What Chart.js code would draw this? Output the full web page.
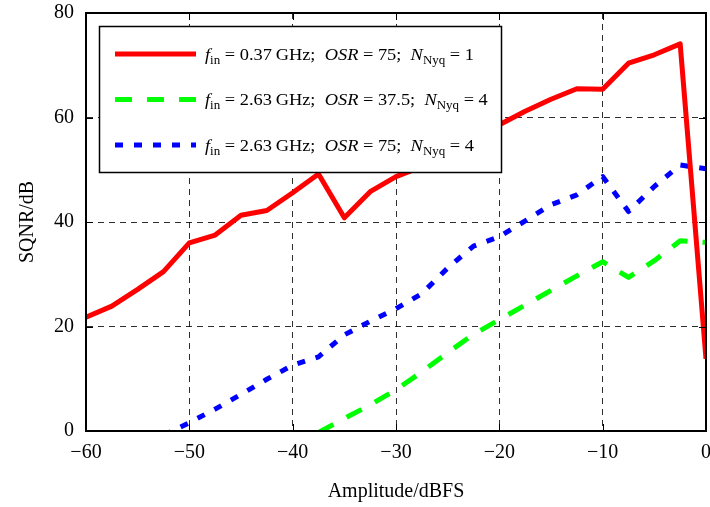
<!DOCTYPE html>
<html>
<head>
<meta charset="utf-8">
<script src="https://cdn.jsdelivr.net/npm/chart.js@4.4.1/dist/chart.umd.min.js"></script>
<style>
  html, body { margin: 0; padding: 0; background: #fff; }
  canvas { display: block; }
</style>
</head>
<body>
<canvas id="chart" width="710" height="507"></canvas>
<script>
// Input amplitude sweep (dBFS)
const amplitude = [-60, -57.5, -55, -52.5, -50, -47.5, -45, -42.5, -40, -37.5, -35, -32.5,
                   -30, -27.5, -25, -22.5, -20, -17.5, -15, -12.5, -10, -7.5, -5, -2.5, 0];

// SQNR (dB): f_in = 0.37 GHz, OSR = 75, N_Nyq = 1
const sqnrLowBand = [21.8, 23.9, 27.1, 30.5, 36.0, 37.5, 41.3, 42.2, 45.6, 49.2, 40.8, 45.8,
                     48.7, 50.6, 53.0, 55.8, 58.6, 61.2, 63.5, 65.5, 65.4, 70.4, 72.0, 74.1, 13.8];

// SQNR (dB): f_in = 2.63 GHz, OSR = 37.5, N_Nyq = 4
const sqnrOsr37 = [null, null, null, null, null, null, null, null, null, -0.3, 2.4, 5.0,
                   7.9, 11.3, 15.0, 18.5, 21.3, 24.1, 26.9, 29.7, 32.4, 29.4, 32.6, 36.4, 36.1];

// SQNR (dB): f_in = 2.63 GHz, OSR = 75, N_Nyq = 4
const sqnrOsr75 = [null, null, null, -0.8, 1.6, 4.2, 7.0, 9.9, 12.6, 14.2, 18.4, 21.0,
                   23.4, 26.3, 31.2, 35.4, 37.2, 40.2, 43.3, 45.2, 48.7, 42.0, 46.8, 50.9, 50.2];

const xTickLabels = ['\u221260', '\u221250', '\u221240', '\u221230', '\u221220', '\u221210', '0'];
const yTickLabels = ['0', '20', '40', '60', '80'];

// Legend entries
const legendFin = ['0.37', '2.63', '2.63'];
const legendOsr = ['75', '37.5', '75'];
const legendNyq = ['1', '4', '4'];

const SERIF = '"Liberation Serif", "Times New Roman", serif';
Chart.defaults.font.family = SERIF;
Chart.defaults.color = '#000';

function points(values) {
  return amplitude.map((x, i) => ({ x: x, y: values[i] }));
}

function strokeSegment(ctx, x1, y1, x2, y2) {
  ctx.beginPath();
  ctx.moveTo(x1, y1);
  ctx.lineTo(x2, y2);
  ctx.stroke();
}

// A legend row: italic symbols with roman subscripts
function richPieces(i) {
  return [
    ['f', 'it'], ['in', 'sub'],
    [' = ' + legendFin[i] + '\u2009GHz;  ', 'rm'],
    ['OSR', 'it'], [' = ' + legendOsr[i] + ';  ', 'rm'],
    ['N', 'it'], ['Nyq', 'sub'], [' = ' + legendNyq[i], 'rm']
  ];
}
const FS = 17;
const fonts = {
  rm: FS + 'px ' + SERIF,
  it: 'italic ' + FS + 'px ' + SERIF,
  sub: Math.round(FS * 0.72) + 'px ' + SERIF
};
function measureRich(ctx, pieces) {
  let w = 0;
  pieces.forEach(([t, k]) => { ctx.font = fonts[k]; w += ctx.measureText(t).width; });
  return w;
}
function drawRich(ctx, pieces) {
  let x = 0;
  pieces.forEach(([t, k]) => {
    ctx.font = fonts[k];
    ctx.fillText(t, x, k === 'sub' ? 4 : 0);
    x += ctx.measureText(t).width;
  });
}

const framePlugin = {
  id: 'frameAndLegend',
  afterDatasetsDraw(chart) {
    const { ctx, chartArea: a, scales: { x, y } } = chart;
    ctx.save();

    // inward tick marks on all four sides
    ctx.strokeStyle = '#000';
    ctx.lineWidth = 1;
    const tl = 7;
    x.ticks.forEach(t => {
      const px = Math.round(x.getPixelForValue(t.value)) + 0.5;
      strokeSegment(ctx, px, a.bottom, px, a.bottom - tl);
      strokeSegment(ctx, px, a.top, px, a.top + tl);
    });
    y.ticks.forEach(t => {
      const py = Math.round(y.getPixelForValue(t.value)) + 0.5;
      strokeSegment(ctx, a.left, py, a.left + tl, py);
      strokeSegment(ctx, a.right, py, a.right - tl, py);
    });

    // axes box
    ctx.lineWidth = 2;
    ctx.strokeRect(a.left, a.top, a.right - a.left, a.bottom - a.top);

    // legend box
    const bx = 99.5, by = 26.5, bw = 402, bh = 146;
    ctx.fillStyle = '#fff';
    ctx.fillRect(bx, by, bw, bh);
    ctx.lineWidth = 1.5;
    ctx.strokeStyle = '#000';
    ctx.strokeRect(bx, by, bw, bh);

    const rows = [54, 99.5, 145];
    const natural = measureRich(ctx, richPieces(0));
    const sx = 269 / natural;
    chart.data.datasets.forEach((ds, i) => {
      const ry = rows[i];
      ctx.save();
      ctx.strokeStyle = ds.borderColor;
      ctx.lineWidth = ds.borderWidth;
      ctx.lineCap = 'butt';
      ctx.setLineDash(ds.borderDash || []);
      strokeSegment(ctx, 115, ry, 196, ry);
      ctx.restore();

      ctx.save();
      ctx.fillStyle = '#000';
      ctx.textBaseline = 'alphabetic';
      ctx.textAlign = 'left';
      ctx.translate(205, ry + 5.5);
      ctx.scale(sx, 1);
      drawRich(ctx, richPieces(i));
      ctx.restore();
    });
    ctx.restore();
  }
};

new Chart(document.getElementById('chart'), {
  type: 'line',
  data: {
    datasets: [
      { data: points(sqnrLowBand), borderColor: '#ff0000', borderWidth: 5, borderDash: [] },
      { data: points(sqnrOsr37), borderColor: '#00ff00', borderWidth: 5, borderDash: [17, 15] },
      { data: points(sqnrOsr75), borderColor: '#0000ff', borderWidth: 5, borderDash: [8, 11] }
    ].map(d => Object.assign(d, {
      pointRadius: 0, tension: 0, fill: false, clip: 0,
      borderJoinStyle: 'round', borderCapStyle: 'butt', spanGaps: false
    }))
  },
  options: {
    responsive: false,
    animation: false,
    events: [],
    layout: { padding: { top: 13, right: 4, left: 0, bottom: 0 } },
    plugins: { legend: { display: false }, tooltip: { enabled: false } },
    scales: {
      x: {
        type: 'linear', min: -60, max: 0,
        grid: { color: 'rgba(0,0,0,0.82)', lineWidth: 1, drawTicks: false },
        border: { display: true, color: '#000', width: 2, dash: [6, 5] },
        ticks: {
          stepSize: 10, padding: 10, maxRotation: 0, autoSkip: false,
          font: { size: 20, family: SERIF }, color: '#000',
          callback: (v, i) => xTickLabels[i]
        },
        title: {
          display: true, text: 'Amplitude/dBFS', color: '#000',
          font: { size: 20, family: SERIF }, padding: { top: 0, bottom: 3 }
        },
        afterFit(s) { s.height = 76; s.paddingLeft = 0; s.paddingRight = 0; }
      },
      y: {
        type: 'linear', min: 0, max: 80,
        grid: { color: 'rgba(0,0,0,0.82)', lineWidth: 1, drawTicks: false },
        border: { display: true, color: '#000', width: 2, dash: [6, 5] },
        ticks: {
          stepSize: 20, padding: 12,
          font: { size: 20, family: SERIF }, color: '#000',
          callback: (v, i) => yTickLabels[i]
        },
        title: {
          display: true, text: 'SQNR/dB', color: '#000',
          font: { size: 20, family: SERIF }, padding: { top: 16, bottom: 0 }
        },
        afterFit(s) { s.width = 86; s.paddingTop = 0; s.paddingBottom = 0; }
      }
    }
  },
  plugins: [framePlugin]
});
</script>
</body>
</html>
